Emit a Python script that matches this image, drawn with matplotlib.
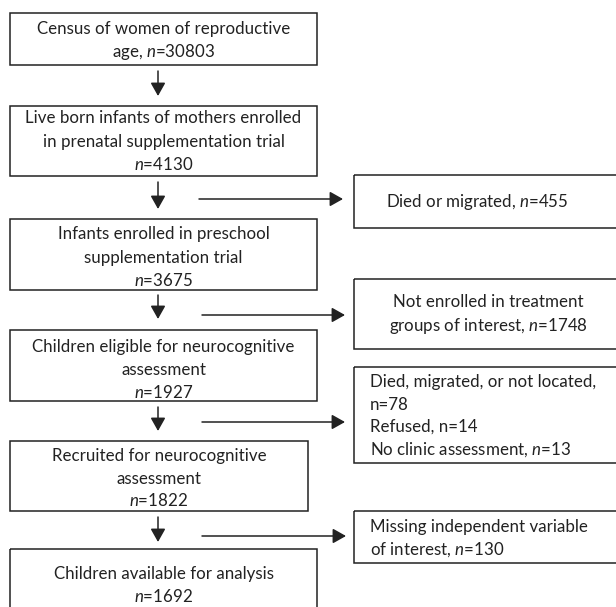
import matplotlib
matplotlib.use("Agg")
import matplotlib.pyplot as plt
from matplotlib.patches import Rectangle

plt.rcParams['font.family'] = ['Lato', 'DejaVu Sans']
plt.rcParams['mathtext.fontset'] = 'custom'
plt.rcParams['mathtext.rm'] = 'Lato'
plt.rcParams['mathtext.it'] = 'Lato:italic'

# flow chart content
main_steps = [
    ["Census of women of reproductive", "age, $n$=30803"],
    ["Live born infants of mothers enrolled", "in prenatal supplementation trial", "$n$=4130"],
    ["Infants enrolled in preschool", "supplementation trial", "$n$=3675"],
    ["Children eligible for neurocognitive", "assessment", "$n$=1927"],
    ["Recruited for neurocognitive", "assessment", "$n$=1822"],
    ["Children available for analysis", "$n$=1692"],
]
exclusions = [
    ["Died or migrated, $n$=455"],
    ["Not enrolled in treatment", "groups of interest, $n$=1748"],
    ["Died, migrated, or not located,", "n=78", "Refused, n=14", "No clinic assessment, $n$=13"],
    ["Missing independent variable", "of interest, $n$=130"],
]

# layout (pixels, y down)
main_boxes = [(10, 13, 317, 65), (10, 106, 317, 176), (10, 219, 317, 290),
              (10, 330, 317, 401), (10, 441, 308, 511), (10, 549, 317, 650)]
main_line_y = [[30, 52], [119, 143, 166], [235, 259, 282],
               [348, 371, 393], [457, 480, 502], [575, 597]]
side_boxes = [(354, 175, 660, 228), (354, 279, 660, 349),
              (354, 367, 660, 463), (354, 511, 660, 563)]
side_line_y = [[202], [303, 326], [383, 406, 428, 450], [528, 550]]
side_x = [(477, 'center'), (488, 'center'), (370, 'left'), (370, 'left')]
down_arrows = [(71, 96), (182, 209), (295, 319), (407, 431), (517, 542)]
side_arrows = [(199, 199, 343), (315, 202, 345), (422, 202, 345), (536, 202, 346)]
arrow_x = 158
text_shift = -2.5

ink = '#222222'
fs = 12.2

fig = plt.figure(figsize=(6.16, 6.07), dpi=100)
ax = fig.add_axes([0, 0, 1, 1])
ax.set_xlim(0, 616)
ax.set_ylim(607, 0)
ax.axis('off')


def draw_box(box):
    x0, y0, x1, y1 = box
    ax.add_patch(Rectangle((x0, y0), x1 - x0, y1 - y0, fill=False,
                           edgecolor=ink, lw=1.1, clip_on=True))


for box, lines, ys in zip(main_boxes, main_steps, main_line_y):
    draw_box(box)
    cx = (box[0] + box[2]) / 2
    for line, y in zip(lines, ys):
        ax.text(cx, y + text_shift, line, ha='center', va='center_baseline',
                fontsize=fs, color=ink)

for box, lines, ys, (tx, ha) in zip(side_boxes, exclusions, side_line_y, side_x):
    draw_box(box)
    for line, y in zip(lines, ys):
        ax.text(tx, y + text_shift, line, ha=ha, va='center_baseline',
                fontsize=fs, color=ink)

arrow_style = dict(arrowstyle='-|>,head_length=0.8,head_width=0.45', mutation_scale=10,
                   lw=1.1, color=ink, shrinkA=0, shrinkB=0)
for y0, y1 in down_arrows:
    ax.annotate('', xy=(arrow_x, y1), xytext=(arrow_x, y0), arrowprops=arrow_style)
for y, x0, x1 in side_arrows:
    ax.annotate('', xy=(x1, y), xytext=(x0, y), arrowprops=arrow_style)

fig.savefig('out.png', dpi=100, facecolor='white')
